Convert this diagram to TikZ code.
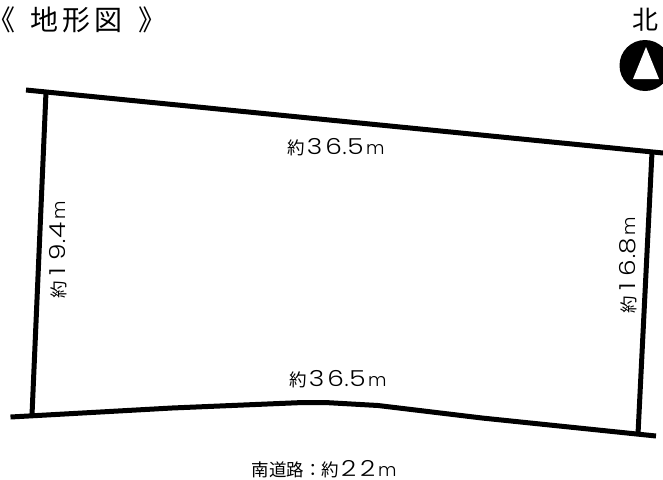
\documentclass[tikz,border=0pt]{standalone}
\usepackage{fontspec}
\usepackage{graphicx}
\setmainfont{Noto Sans CJK JP}
\newfontfamily\digitfont{Poppins Light}
\newcommand{\lendig}[1]{\makebox[19pt]{\digitfont\fontsize{22}{22}\selectfont\scalebox{1.2}[1]{#1}}}
\newcommand{\lendot}{\makebox[3pt]{\digitfont\fontsize{22}{22}\selectfont .}}
\newcommand{\lenunit}{\kern1pt{\digitfont\fontsize{18}{18}\selectfont m}}
\newcommand{\tightbr}[1]{{\addfontfeature{RawFeature=+palt}#1}}
\tikzset{
  lotline/.style = {line width = 5pt, black},
  lenlabel/.style = {font = \fontsize{17.5}{17.5}\selectfont, inner sep = 0pt},
  headlabel/.style = {font = \fontsize{28}{28}\selectfont, inner sep = 0pt},
}

\begin{document}
\begin{tikzpicture}[x = 1pt, y = -1pt, auto = center]
          \useasboundingbox (0,0) rectangle (663,479);
          \coordinate (nwend) at (26,90);
          \coordinate (neend) at (663,153);
          \coordinate (nwfoot) at (46,92);
          \coordinate (swfoot) at (32,415);
          \coordinate (nefoot) at (652,152);
          \coordinate (sefoot) at (638,434);
          \coordinate (swend) at (10.5,417);
          \coordinate (road1) at (172,408);
          \coordinate (road2) at (303,402.5);
          \coordinate (road3) at (325,402.5);
          \coordinate (road4) at (378,405.5);
          \coordinate (road5) at (482,418);
          \coordinate (seend) at (656,436);
          \draw[lotline] (nwend) -- (neend);
          \draw[lotline] (nwfoot) -- (swfoot);
          \draw[lotline] (nefoot) -- (sefoot);
          \draw[lotline] (swend) -- (road1) -- (road2) -- (road3) -- (road4) -- (road5) -- (seend);
          \node[headlabel] (title) at (77,20) {\tightbr{《}\kern15.5pt 地\kern4pt 形\kern4pt 図\kern17pt \tightbr{》}};
          \node[headlabel, font = \fontsize{26}{26}\selectfont] (north) at (645,20) {北};
          \node[circle, fill = black, minimum size = 51pt, inner sep = 0pt] (compass) at (645,65.5) {};
          \fill[white] (646,47) -- (659,79) -- (633,79) -- cycle;
          \node[lenlabel] (toplen) at (336,147) {約\lendig{3}\lendig{6}\lendot\lendig{5}\lenunit};
          \node[lenlabel] (botlen) at (338,379) {約\lendig{3}\lendig{6}\lendot\lendig{5}\lenunit};
          \node[lenlabel, rotate = 90] (leftlen) at (58,250) {約\lendig{1}\lendig{9}\lendot\lendig{4}\lenunit};
          \node[lenlabel, rotate = 90] (rightlen) at (628,265.5) {約\lendig{1}\lendig{6}\lendot\lendig{8}\lenunit};
          \node[lenlabel] (roadlen) at (324,469) {南道路：約\lendig{2}\lendig{2}\lenunit};
        \end{tikzpicture}
\end{document}
